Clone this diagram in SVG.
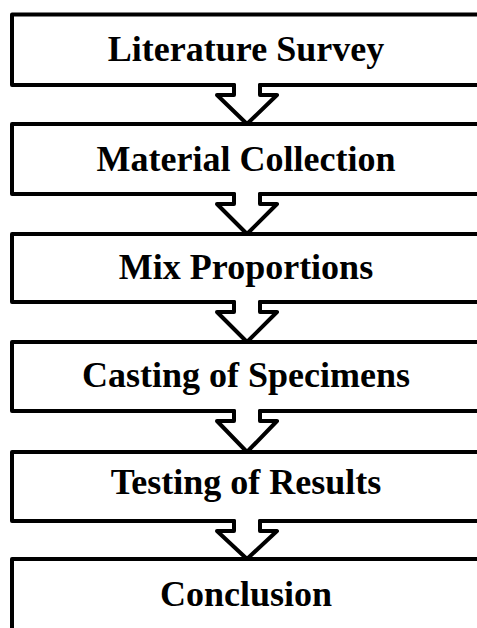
<svg xmlns="http://www.w3.org/2000/svg" width="477" height="628" viewBox="0 0 477 628">
  <style>
    .frame { fill: none; stroke: #000; stroke-width: 4; stroke-linejoin: round; stroke-linecap: round; }
    .label { font-family: "Liberation Serif", "Times New Roman", serif; font-weight: bold; font-size: 36px; fill: #000; text-anchor: middle; }
  </style>
  <rect width="477" height="628" fill="#fff"/>

  <!-- Process steps: boxes run off the right edge -->
  <g id="step-literature">
    <path class="frame" d="M 490 14.5 H 12 V 85 H 234"/>
    <path class="frame" d="M 260 85 H 490"/>
    <text class="label" x="246" y="61">Literature Survey</text>
  </g>
  <g id="step-material">
    <path class="frame" d="M 490 124 H 12 V 194 H 234"/>
    <path class="frame" d="M 260 194 H 490"/>
    <text class="label" x="246" y="171">Material Collection</text>
  </g>
  <g id="step-mix">
    <path class="frame" d="M 490 234 H 12 V 302 H 234"/>
    <path class="frame" d="M 260 302 H 490"/>
    <text class="label" x="246" y="279">Mix Proportions</text>
  </g>
  <g id="step-casting">
    <path class="frame" d="M 490 342 H 12 V 411 H 234"/>
    <path class="frame" d="M 260 411 H 490"/>
    <text class="label" x="246" y="387">Casting of Specimens</text>
  </g>
  <g id="step-testing">
    <path class="frame" d="M 490 452 H 12 V 521 H 234"/>
    <path class="frame" d="M 260 521 H 490"/>
    <text class="label" x="246" y="494">Testing of Results</text>
  </g>
  <g id="step-conclusion">
    <path class="frame" d="M 490 559 H 12 V 640"/>
    <text class="label" x="246" y="606">Conclusion</text>
  </g>

  <!-- Block arrows between steps -->
  <g id="connectors">
    <path class="frame" d="M 234 85 V 95 H 217 L 247 124 L 277 95 H 260 V 85"/>
    <path class="frame" d="M 234 194 V 204 H 217 L 247 234 L 277 204 H 260 V 194"/>
    <path class="frame" d="M 234 302 V 312 H 217 L 247 342 L 277 312 H 260 V 302"/>
    <path class="frame" d="M 234 411 V 421 H 217 L 247 452 L 277 421 H 260 V 411"/>
    <path class="frame" d="M 234 521 V 531 H 217 L 247 559 L 277 531 H 260 V 521"/>
  </g>
</svg>
